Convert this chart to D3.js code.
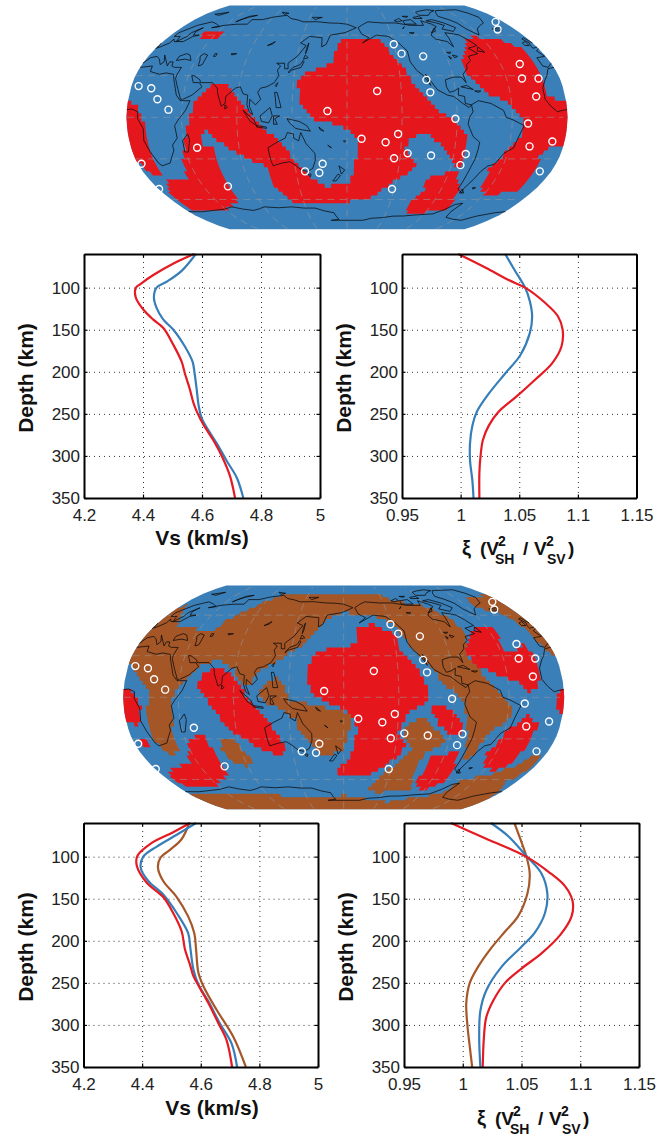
<!DOCTYPE html>
<html>
<head>
<meta charset="utf-8">
<script src="https://cdn.jsdelivr.net/npm/d3@7"></script>
<style>
  body { margin: 0; background: #fff; }
  svg { display: block; }
  text { font-family: "Liberation Sans", Arial, sans-serif; fill: #111; }
</style>
</head>
<body>
<svg id="fig" width="669" height="1136"></svg>
<script>
// --- profile data ---
const vsTicks = [4.2, 4.4, 4.6, 4.8, 5];
const xiTicks = [0.95, 1, 1.05, 1.1, 1.15];
const depthTicks = [100, 150, 200, 250, 300, 350];

const vsTopRedDepth = [60, 71, 85, 96, 100, 111, 126, 138, 148, 168, 188, 202, 221, 237, 247, 263, 281, 300, 324, 350];
const vsTopRed = [4.573, 4.505, 4.435, 4.39, 4.376, 4.375, 4.401, 4.435, 4.469, 4.503, 4.531, 4.542, 4.559, 4.571, 4.582, 4.605, 4.638, 4.667, 4.695, 4.712];
const vsTopBlueDepth = [60, 80, 93, 100, 111, 124, 138, 150, 170, 188, 202, 221, 241, 255, 269, 285, 306, 326, 350];
const vsTopBlue = [4.579, 4.531, 4.48, 4.446, 4.437, 4.446, 4.469, 4.503, 4.542, 4.568, 4.575, 4.582, 4.589, 4.599, 4.621, 4.65, 4.684, 4.718, 4.74];

const xiTopRedDepth = [60, 76, 91, 100, 118, 134, 150, 170, 190, 210, 229, 248, 264, 281, 300, 320, 350];
const xiTopRed = [0.998, 1.021, 1.041, 1.055, 1.072, 1.083, 1.087, 1.086, 1.078, 1.063, 1.048, 1.032, 1.024, 1.019, 1.017, 1.016, 1.016];
const xiTopBlueDepth = [60, 79, 100, 116, 134, 154, 180, 202, 226, 247, 264, 285, 305, 329, 350];
const xiTopBlue = [1.038, 1.046, 1.055, 1.059, 1.061, 1.059, 1.051, 1.038, 1.024, 1.014, 1.01, 1.008, 1.008, 1.01, 1.011];

const vsLowRedDepth = [60, 71, 85, 99, 111, 131, 148, 167, 189, 210, 228, 242, 256, 274, 298, 318, 350];
const vsLowRed = [4.563, 4.506, 4.427, 4.384, 4.382, 4.416, 4.472, 4.506, 4.535, 4.546, 4.563, 4.575, 4.597, 4.626, 4.66, 4.688, 4.707];
const vsLowBlueDepth = [60, 74, 88, 100, 113, 129, 145, 167, 191, 210, 234, 252, 272, 298, 322, 350];
const vsLowBlue = [4.584, 4.518, 4.45, 4.404, 4.395, 4.421, 4.472, 4.518, 4.557, 4.565, 4.575, 4.592, 4.626, 4.665, 4.705, 4.724];
const vsLowBrownDepth = [60, 79, 92, 101, 113, 129, 148, 171, 191, 210, 238, 254, 282, 314, 350];
const vsLowBrown = [4.561, 4.535, 4.495, 4.463, 4.454, 4.472, 4.518, 4.557, 4.578, 4.584, 4.592, 4.609, 4.654, 4.711, 4.754];

const xiLowRedDepth = [60, 78, 90, 100, 118, 135, 153, 171, 193, 215, 233, 250, 271, 291, 315, 350];
const xiLowRed = [0.99, 1.019, 1.039, 1.054, 1.073, 1.087, 1.0935, 1.0926, 1.083, 1.067, 1.05, 1.036, 1.026, 1.02, 1.018, 1.017];
const xiLowBlueDepth = [60, 76, 99, 120, 144, 167, 191, 207, 231, 259, 283, 315, 350];
const xiLowBlue = [1.024, 1.039, 1.054, 1.067, 1.072, 1.07, 1.061, 1.05, 1.033, 1.02, 1.015, 1.014, 1.015];
const xiLowBrownDepth = [60, 79, 99, 120, 144, 171, 189, 209, 231, 250, 274, 301, 326, 350];
const xiLowBrown = [1.044, 1.049, 1.054, 1.057, 1.055, 1.047, 1.036, 1.024, 1.013, 1.006, 1.003, 1.004, 1.006, 1.008];

// --- map data: [lon, lat], lon running 0..360 ---
const stations = [[351,71],[341,64.5],[225,53],[230,46],[249,44],[247,27],[249,18],[332,38.5],[328,28],[342,28],[336,15],[205,19],[164,4.5],[268.5,-1],[328,-4.5],[192,-15.5],[222,-12],[212,-18],[332,-21],[350,-17.5],[231,-26],[251,-27.5],[220,-29.5],[280,-26.5],[278,-34.5],[350,-39],[223,-52],[159,-33.5],[155.5,-40],[143,-39],[68,-50],[55,-22],[3,-33.5],[0.5,-52],[6,22.5],[17,21],[24,13],[34,5.5]];

const topRed = [
  [[176,56],[212,56],[219,50],[222,43],[232,35],[233,26],[246,15],[255,4],[271,-4],[280,-16],[280,-28],[277,-37],[267,-28],[260,-22],[248,-13],[240,-12],[232,-15],[229,-24],[235,-28],[240,-34],[234,-41],[220,-48],[206,-58],[200,-61],[169,-62],[122,-62],[112,-50],[110,-36],[83,-24],[72,-16],[65,-9],[60,-14],[61,-20],[70,-22],[68,-43],[69,-60],[46,-68],[6,-68],[5,-58],[16,-45],[35,-45],[46,-16],[49,-7],[55,10],[68,23],[82,23],[90,15],[95,8],[106,-4],[127,-19],[134,-31],[147,-43],[161,-50],[183,-47],[187,-31],[191,-21],[188,-14],[172,-5],[155,-2],[142,8],[139,25],[145,32],[168,39],[170,51]],
  [[277,-37],[277,-39],[287,-53],[292,-69],[250,-72],[244,-66],[254,-53],[252,-44],[268,-40]],
  [[307,59],[330,57],[346,50],[344,39],[345,32],[345,17],[353,13],[361,12],[361,-20],[357,-21],[350,-22],[343,-28],[345,-41],[345,-53],[320,-57],[307,-52],[304,-38],[316,-21],[325,-12],[325,-4],[314,10],[296,17],[282,30],[284,44],[297,55]],
  [[-1,12],[8,8],[14,-4],[16,-28],[15,-44],[8,-41],[3,-36],[-1,-25]],
  [[31,63],[50,63],[50,57],[32,57]]
];

const lowRed = [
  [[191,51],[209,53],[226,46],[229,34],[233,28],[242,21],[249,6],[250,-3],[236,-9],[231,-15],[225,-26],[234,-34],[228,-43],[212,-53],[203,-58],[175,-58],[175,-52],[186,-43],[190,-33],[191,-24],[189,-16],[180,-8],[163,-3],[152,6],[149,22],[156,31],[168,35],[190,38],[192,45]],
  [[305,51],[322,50],[317,34],[328,33],[338,39],[343,27],[342,14],[338,6],[331,3],[323,11],[309,15],[291,23],[284,32],[293,44]],
  [[357,6],[361,8],[361,-14],[356,-10],[353,-1]],
  [[331,-13],[342,-20],[338,-33],[337,-48],[325,-54],[309,-48],[307,-41],[316,-25],[325,-18]],
  [[259,-43],[280,-39],[285,-52],[285,-62],[268,-69],[256,-64],[257,-50]],
  [[252,-8],[261,-5],[274,-14],[279,-21],[279,-28],[270,-27],[258,-19]],
  [[66,19],[77,21],[89,15],[98,5],[106,-7],[116,-16],[126,-28],[129,-37],[124,-43],[109,-38],[95,-30],[82,-21],[76,-12],[68,-2],[59,9]],
  [[48,-30],[63,-27],[65,-38],[67,-48],[66,-55],[43,-66],[11,-66],[3,-60],[15,-52],[38,-47]],
  [[-1,6],[8,4],[14,-7],[13,-14],[8,-20],[-1,-18]],
  [[8,-29],[13,-33],[7,-37],[5,-32]]
];

const lowBrown = [
  [[-1,39],[2,72],[16,57],[23,50],[60,49],[65,57],[87,70],[107,79],[222,79],[235,73],[271,67],[284,59],[289,54],[292,44],[283,33],[291,22],[300,10],[308,2],[319,-10],[315,-16],[301,-28],[294,-46],[288,-43],[284,-28],[282,-16],[278,-2],[272,2],[262,10],[252,22],[240,33],[234,44],[228,54],[207,60],[180,62],[163,57],[152,46],[142,37],[126,27],[110,20],[102,8],[96,10],[88,21],[73,27],[60,22],[47,10],[41,2],[39,-12],[37,-26],[35,-38],[28,-43],[20,-36],[17,-21],[19,-7],[22,3],[15,12],[2,25],[-1,27]],
  [[117,12],[127,14],[136,-2],[163,-7],[188,-12],[187,-19],[183,-28],[180,-38],[165,-43],[156,-38],[143,-26],[141,-16],[128,-9],[117,-4],[110,3]],
  [[75,-30],[86,-30],[94,-41],[96,-48],[88,-50],[78,-47],[73,-38]],
  [[235,-18],[246,-15],[259,-25],[268,-33],[253,-39],[249,-48],[251,-63],[257,-68],[218,-71],[208,-68],[214,-60],[229,-48],[241,-37],[230,-26],[231,-21]],
  [[350,-41],[342,-49],[325,-56],[303,-60],[298,-64],[292,-73],[273,-74],[237,-80],[180,-73],[155,-76],[57,-71],[-1,-72],[-1,-91],[361,-91],[358,-71],[347,-62],[355,-58],[358,-43]],
  [[323,73],[355,77],[361,78],[361,28],[353,34],[352,44],[348,54],[341,62],[325,66]]
];

const coasts = [
  [[-17,15],[-17,21],[-13,27],[-10,30],[-6,35],[10,37],[11,33],[20,31],[25,32],[32,31],[34,27],[37,21],[39,16],[43,12],[51,12],[48,5],[42,-2],[39,-6],[40,-15],[35,-20],[35,-24],[32,-28],[28,-33],[20,-35],[18,-33],[15,-25],[12,-17],[13,-8],[9,-1],[9,4],[4,6],[-4,5],[-8,4],[-13,8],[-17,13],[-17,15]],
  [[-9,37],[-9,43],[-1,44],[-4,48],[3,51],[8,54],[8,57],[11,55],[20,55],[24,59],[29,60],[23,60],[21,63],[24,66],[18,62],[18,59],[13,55],[11,59],[5,59],[5,62],[14,68],[25,71],[40,67],[33,66],[44,68],[68,69],[68,73],[80,73],[105,77],[113,74],[130,71],[160,70],[180,69],[190,66],[178,62],[163,60],[160,53],[156,51],[155,58],[142,59],[135,54],[141,52],[135,44],[128,39],[129,35],[126,35],[125,39],[121,39],[118,39],[122,37],[120,34],[122,30],[119,25],[113,22],[108,21],[106,18],[109,13],[105,9],[100,13],[100,8],[103,2],[100,4],[98,9],[98,16],[94,17],[91,22],[87,21],[80,15],[80,10],[77,8],[73,17],[72,21],[67,25],[57,25],[56,27],[50,30],[48,30],[51,25],[56,25],[59,22],[52,16],[45,13],[43,13],[39,21],[35,28],[35,31],[36,36],[30,36],[27,37],[26,40],[23,40],[23,37],[20,40],[14,45],[18,40],[16,38],[12,42],[8,44],[3,43],[0,39],[-5,36],[-9,37]],
  [[28,41],[35,42],[41,41],[37,45],[33,46],[28,44],[28,41]],
  [[49,46],[53,45],[53,38],[50,37],[49,41],[47,44],[49,46]],
  [[59,46],[61,46],[61,44],[59,44],[59,46]],
  [[74,46],[79,46],[75,45],[74,46]],
  [[104,52],[110,55],[108,53],[104,52]],
  [[-45,60],[-52,65],[-55,70],[-68,76],[-60,82],[-30,83],[-20,75],[-25,70],[-40,65],[-45,60]],
  [[-24,65],[-14,66],[-15,64],[-22,64],[-24,65]],
  [[-5,50],[1,51],[0,54],[-3,58],[-6,57],[-3,54],[-5,52],[-5,50]],
  [[-10,52],[-6,52],[-6,55],[-10,54],[-10,52]],
  [[-168,66],[-156,71],[-140,70],[-125,70],[-110,68],[-95,68],[-94,72],[-85,69],[-82,67],[-94,60],[-92,57],[-82,55],[-79,51],[-78,58],[-78,62],[-70,61],[-65,60],[-56,52],[-66,50],[-60,46],[-70,44],[-70,41],[-75,38],[-76,35],[-81,31],[-80,25],[-83,29],[-90,29],[-97,27],[-97,22],[-95,18],[-91,19],[-87,21],[-88,16],[-83,15],[-83,10],[-78,9],[-80,7],[-85,10],[-92,15],[-97,16],[-105,20],[-110,27],[-113,31],[-110,23],[-115,30],[-120,34],[-124,40],[-124,48],[-130,54],[-138,59],[-150,60],[-155,58],[-165,54],[-158,58],[-165,61],[-168,66]],
  [[-80,73],[-70,70],[-62,66],[-68,63],[-78,65],[-72,68],[-88,72],[-80,73]],
  [[-115,72],[-105,73],[-102,69],[-115,69],[-115,72]],
  [[-90,80],[-70,83],[-62,82],[-78,77],[-90,77],[-90,80]],
  [[-125,72],[-118,74],[-116,72],[-122,71],[-125,72]],
  [[-100,75],[-92,76],[-90,74],[-100,74],[-100,75]],
  [[-112,76],[-105,76],[-108,75],[-112,76]],
  [[-92,62],[-85,66],[-87,63],[-92,62]],
  [[-88,47],[-84,47],[-86,46],[-88,47]],
  [[-88,44],[-86,43],[-87,42],[-88,44]],
  [[-84,45],[-80,44],[-83,43],[-84,45]],
  [[-120,65],[-117,67],[-119,66],[-120,65]],
  [[-115,62],[-110,62],[-112,61],[-115,62]],
  [[-59,48],[-53,47],[-56,51],[-59,48]],
  [[-78,9],[-72,12],[-62,10],[-52,5],[-50,0],[-44,-2],[-35,-6],[-39,-15],[-41,-22],[-48,-26],[-53,-34],[-58,-35],[-62,-39],[-65,-45],[-69,-52],[-68,-55],[-74,-52],[-73,-40],[-71,-30],[-70,-18],[-76,-14],[-81,-5],[-80,0],[-77,4],[-78,9]],
  [[-85,22],[-75,20],[-80,23],[-85,22]],
  [[-74,19],[-69,19],[-71,18],[-74,19]],
  [[114,-22],[122,-18],[129,-15],[131,-11],[136,-12],[136,-15],[140,-17],[142,-11],[146,-19],[153,-26],[153,-31],[150,-37],[145,-39],[140,-38],[136,-35],[131,-32],[124,-33],[116,-35],[115,-31],[114,-22]],
  [[145,-41],[148,-41],[147,-43],[145,-41]],
  [[173,-35],[178,-38],[175,-41],[174,-38],[173,-35]],
  [[172,-41],[174,-42],[170,-46],[167,-46],[172,-41]],
  [[131,-1],[141,-3],[147,-6],[150,-10],[143,-9],[138,-8],[133,-4],[131,-1]],
  [[109,1],[117,7],[119,1],[116,-4],[110,-3],[109,1]],
  [[95,5],[104,-2],[106,-6],[101,-3],[95,5]],
  [[106,-6],[114,-7],[114,-8],[106,-7],[106,-6]],
  [[120,1],[125,1],[121,-1],[123,-5],[120,-5],[120,1]],
  [[120,18],[122,18],[124,13],[126,7],[122,7],[121,14],[120,18]],
  [[130,32],[132,34],[136,35],[140,36],[142,40],[141,41],[139,38],[133,36],[130,33],[130,32]],
  [[141,42],[145,43],[142,45],[141,42]],
  [[120,23],[122,25],[121,22],[120,23]],
  [[142,46],[143,49],[143,54],[142,50],[142,46]],
  [[49,-12],[50,-16],[47,-25],[44,-25],[44,-17],[49,-12]],
  [[80,9],[82,7],[80,6],[80,9]],
  [[12,78],[25,80],[20,77],[12,78]],
  [[52,71],[60,76],[68,77],[55,73],[52,71]],
  [[95,80],[105,79],[100,78],[95,80]],
  [[138,75],[150,75],[142,73],[138,75]],
  [[165,-21],[167,-22],[164,-20],[165,-21]],
  [[178,-18],[179,-17],[177,-17],[178,-18]],
  [[157,-7],[161,-10],[158,-9],[157,-7]],
  [[-70,-52],[-66,-55],[-70,-55],[-70,-52]],
  [[-61,-51],[-58,-51],[-60,-52],[-61,-51]],
  [[0,-70],[30,-69],[55,-66],[75,-69],[90,-66],[120,-66],[145,-67],[165,-71],[170,-77],[160,-78],[180,-78],[200,-78],[210,-76],[235,-74],[260,-73],[280,-72],[295,-64],[302,-63],[298,-70],[300,-75],[325,-78],[335,-74],[350,-71],[360,-70]]
];

const gratLats = [-60, -30, 0, 30, 60];
const gratLons = [45, 90, 135, 180, 225, 270, 315];

// robinson table, every 5 deg
const robLat = d3.range(0, 91, 5);
const robX = [1, .9986, .9954, .99, .9822, .973, .96, .9427, .9216, .8962, .8679, .835, .7986, .7597, .7186, .6732, .6213, .5722, .5322];
const robY = [0, .062, .124, .186, .248, .31, .372, .434, .4958, .5571, .6176, .6769, .7346, .7903, .8435, .8936, .9394, .9761, 1];
const interpX = d3.scaleLinear().domain(robLat).range(robX);
const interpY = d3.scaleLinear().domain(robLat).range(robY);
function robinsonRaw(lambda, phi) {
  const deg = Math.abs(phi) * 180 / Math.PI;
  return [0.8487 * interpX(deg) * lambda, Math.sign(phi) * 1.3523 * interpY(deg)];
}

const colors = { red: '#e5191f', blue: '#3a7fb9', brown: '#a45626' };
const lineColors = { red: '#e41b23', blue: '#377eb8', brown: '#a6572a' };
const cellStep = 3;

const svg = d3.select('#fig');
const defs = svg.append('defs');
defs.append('filter').attr('id', 'soft')
  .append('feGaussianBlur').attr('stdDeviation', 0.35);

function cellsPath(projection, polys) {
  const ctx = d3.path();
  for (let lon = 0; lon < 360; lon += cellStep) {
    for (let lat = -90; lat < 90; lat += cellStep) {
      const c = [lon + cellStep / 2, lat + cellStep / 2];
      if (!polys.some(p => d3.polygonContains(p, c))) continue;
      const l0 = Math.max(lon, 0.01), l1 = Math.min(lon + cellStep, 359.99);
      const corners = [[l0, lat], [l1, lat], [l1, lat + cellStep], [l0, lat + cellStep]].map(projection);
      ctx.moveTo(corners[0][0], corners[0][1]);
      corners.slice(1).forEach(q => ctx.lineTo(q[0], q[1]));
      ctx.closePath();
    }
  }
  return ctx.toString();
}

function drawMap(cx, cy, redPolys, brownPolys) {
  const projection = d3.geoProjection(robinsonRaw)
    .scale(82.7).translate([cx, cy]).rotate([180, 0]).precision(0.3);
  const path = d3.geoPath(projection);
  const g = svg.append('g').attr('filter', 'url(#soft)');

  g.append('path').datum({ type: 'Sphere' }).attr('d', path).attr('fill', colors.blue);
  if (brownPolys.length) {
    g.append('path').attr('d', cellsPath(projection, brownPolys)).attr('fill', colors.brown);
  }
  g.append('path').attr('d', cellsPath(projection, redPolys)).attr('fill', colors.red);

  const gratLines = gratLats.map(lat => ({ type: 'LineString', coordinates: d3.range(0.5, 360, 4).map(lon => [lon, lat]) }))
    .concat(gratLons.map(lon => ({ type: 'LineString', coordinates: d3.range(-89, 90, 4).map(lat => [lon, lat]) })));
  g.selectAll('.grat').data(gratLines).enter().append('path')
    .attr('d', path).attr('fill', 'none')
    .attr('stroke', '#9a9a9a').attr('stroke-width', 0.9).attr('stroke-opacity', 0.6)
    .attr('stroke-dasharray', '7 5');

  g.selectAll('.coast').data(coasts).enter().append('path')
    .attr('d', d => path({ type: 'LineString', coordinates: d }))
    .attr('fill', 'none').attr('stroke', '#0a0a0a').attr('stroke-width', 0.85).attr('stroke-opacity', 0.9);

  svg.append('g').selectAll('circle').data(stations).enter().append('circle')
    .attr('cx', d => projection(d)[0]).attr('cy', d => projection(d)[1])
    .attr('r', 3.5).attr('fill', 'none').attr('stroke', '#fff').attr('stroke-width', 1.4);
}

function drawPlot(box, xDomain, xTicks, series) {
  const x = d3.scaleLinear().domain(xDomain).range([box.left, box.right]);
  const y = d3.scaleLinear().domain([60, 350]).range([box.top, box.bottom]);
  const w = box.right - box.left, h = box.bottom - box.top;
  const g = svg.append('g');

  // dotted grid
  const gridX = g.append('g').attr('transform', `translate(0,${box.bottom})`)
    .call(d3.axisBottom(x).tickValues(xTicks.slice(1, -1)).tickSize(-h).tickFormat(''));
  const gridY = g.append('g').attr('transform', `translate(${box.left},0)`)
    .call(d3.axisLeft(y).tickValues(depthTicks.slice(0, -1)).tickSize(-w).tickFormat(''));
  [gridX, gridY].forEach(a => {
    a.select('.domain').remove();
    a.selectAll('line').attr('stroke', '#333').attr('stroke-width', 1).attr('stroke-dasharray', '1 4');
  });

  const line = d3.line().x(d => x(d[0])).y(d => y(d[1])).curve(d3.curveCatmullRom);
  series.forEach(s => {
    g.append('path').datum(d3.zip(s.values, s.depth)).attr('d', line)
      .attr('fill', 'none').attr('stroke', s.color).attr('stroke-width', 2.2);
  });

  // frame with inward ticks, labels on left and bottom
  const axB = g.append('g').attr('transform', `translate(0,${box.bottom})`)
    .call(d3.axisBottom(x).tickValues(xTicks).tickSizeInner(-3.5).tickSizeOuter(0).tickPadding(0).tickFormat(d => String(d)));
  const axL = g.append('g').attr('transform', `translate(${box.left},0)`)
    .call(d3.axisLeft(y).tickValues(depthTicks).tickSizeInner(-3.5).tickSizeOuter(0).tickPadding(4));
  const axT = g.append('g').attr('transform', `translate(0,${box.top})`)
    .call(d3.axisTop(x).tickValues(xTicks).tickSizeInner(-3.5).tickSizeOuter(0).tickFormat(''));
  const axR = g.append('g').attr('transform', `translate(${box.right},0)`)
    .call(d3.axisRight(y).tickValues(depthTicks).tickSizeInner(-3.5).tickSizeOuter(0).tickFormat(''));
  [axB, axL, axT, axR].forEach(a => {
    a.select('.domain').attr('stroke', '#000').attr('stroke-width', 2);
    a.selectAll('line').attr('stroke', '#000').attr('stroke-width', 1.2);
    a.selectAll('text').style('font-size', '17px').style('font-family', '"Liberation Sans"').style('fill', '#222');
  });
  axB.selectAll('text').attr('dy', '0').attr('y', 23);
  axL.selectAll('text').attr('dy', '0.33em');

  g.append('text').attr('transform', `translate(${box.left - 58},${(box.top + box.bottom) / 2 + 2}) rotate(-90)`)
    .attr('text-anchor', 'middle').attr('font-size', 21).attr('font-weight', 'bold').attr('dy', '0.35em')
    .text('Depth (km)');
  return g;
}

function vsLabel(cx, baseline) {
  svg.append('text').attr('x', cx).attr('y', baseline).attr('text-anchor', 'middle')
    .attr('font-size', 21).attr('font-weight', 'bold').text('Vs (km/s)');
}

function xiLabel(left, baseline) {
  const parts = [
    ['ξ', 0, 0, 20], ['(V', 18, 0, 19], ['2', 36, -9, 14], ['SH', 33, 9, 14],
    ['/', 61, 0, 19], ['V', 72, 0, 19], ['2', 84, -9, 14], ['SV', 85, 9, 14], [')', 106, 0, 19]
  ];
  // one text element, sub and superscripts placed as tspans
  svg.append('text').attr('font-weight', 'bold').selectAll('tspan').data(parts).enter().append('tspan')
    .attr('x', d => left + d[1]).attr('y', d => baseline + d[2])
    .attr('font-size', d => d[3]).text(d => d[0]);
}

drawMap(347, 117.3, topRed, []);
drawMap(343.7, 697.3, lowRed, lowBrown);

drawPlot({ left: 84, right: 320, top: 254, bottom: 498 }, [4.2, 5], vsTicks, [
  { values: vsTopBlue, depth: vsTopBlueDepth, color: lineColors.blue },
  { values: vsTopRed, depth: vsTopRedDepth, color: lineColors.red }
]);
vsLabel(202, 545);

drawPlot({ left: 402, right: 636.5, top: 254, bottom: 498 }, [0.95, 1.15], xiTicks, [
  { values: xiTopBlue, depth: xiTopBlueDepth, color: lineColors.blue },
  { values: xiTopRed, depth: xiTopRedDepth, color: lineColors.red }
]);
xiLabel(462, 555);

drawPlot({ left: 83.5, right: 318, top: 823, bottom: 1067 }, [4.2, 5], vsTicks, [
  { values: vsLowBrown, depth: vsLowBrownDepth, color: lineColors.brown },
  { values: vsLowBlue, depth: vsLowBlueDepth, color: lineColors.blue },
  { values: vsLowRed, depth: vsLowRedDepth, color: lineColors.red }
]);
vsLabel(212, 1115);

drawPlot({ left: 404, right: 639, top: 823, bottom: 1067 }, [0.95, 1.15], xiTicks, [
  { values: xiLowBrown, depth: xiLowBrownDepth, color: lineColors.brown },
  { values: xiLowBlue, depth: xiLowBlueDepth, color: lineColors.blue },
  { values: xiLowRed, depth: xiLowRedDepth, color: lineColors.red }
]);
xiLabel(477, 1125);
</script>
</body>
</html>
